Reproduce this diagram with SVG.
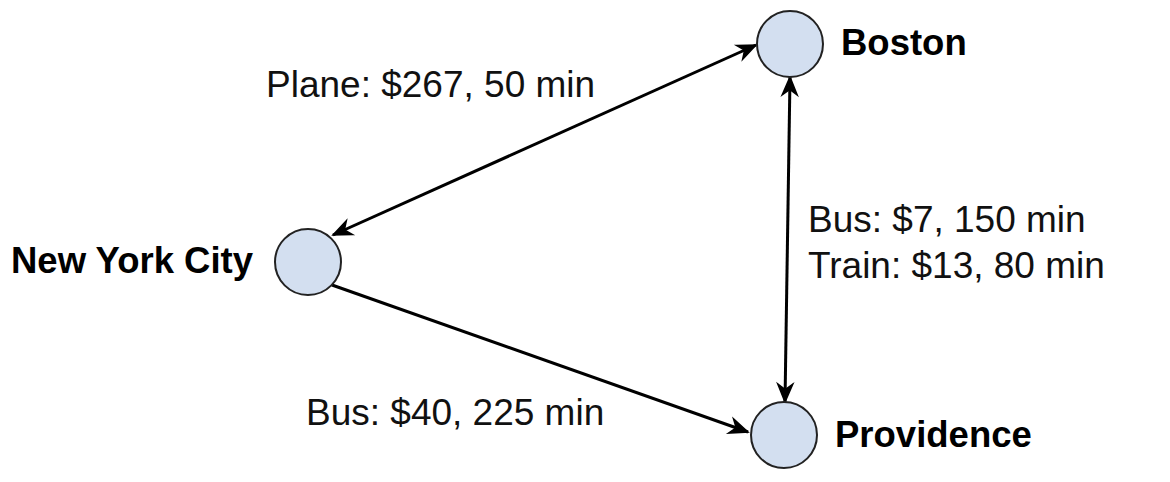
<svg xmlns="http://www.w3.org/2000/svg" width="1170" height="482" viewBox="0 0 1170 482">
  <style>
    .node { fill: #d3dff0; stroke: #222; stroke-width: 2; }
    .edge { fill: none; stroke: #000; stroke-width: 3; }
    .name { font-family: "Liberation Sans", Arial, sans-serif; font-weight: bold; font-size: 36.5px; fill: #000; }
    .label { font-family: "Liberation Sans", Arial, sans-serif; font-size: 37px; fill: #111; }
  </style>
  <defs>
    <marker id="arrow" markerUnits="userSpaceOnUse" markerWidth="26" markerHeight="22" viewBox="-22 -11 26 22" refX="0" refY="0" orient="auto-start-reverse">
      <path d="M-18,-7.5 L0,0 L-18,7.5 L-12.5,0 Z" fill="#000" stroke="#000" stroke-width="1.5" stroke-linejoin="miter"/>
    </marker>
  </defs>

  <g id="connectors">
    <line class="edge" x1="333" y1="235" x2="756" y2="45" marker-start="url(#arrow)" marker-end="url(#arrow)"/>
    <line class="edge" x1="790" y1="77" x2="785" y2="402" marker-start="url(#arrow)" marker-end="url(#arrow)"/>
    <line class="edge" x1="332" y1="285" x2="748" y2="432" marker-end="url(#arrow)"/>
    <text class="label" x="266" y="97">Plane: $267, 50 min</text>
    <text class="label" x="808" y="232">Bus: $7, 150 min</text>
    <text class="label" x="808" y="278">Train: $13, 80 min</text>
    <text class="label" x="306" y="425">Bus: $40, 225 min</text>
  </g>

  <g id="boston">
    <circle class="node" cx="790" cy="44" r="33"/>
    <text class="name" x="841" y="55">Boston</text>
  </g>
  <g id="nyc">
    <circle class="node" cx="308" cy="262" r="33"/>
    <text class="name" x="11" y="273">New York City</text>
  </g>
  <g id="providence">
    <circle class="node" cx="784" cy="435" r="33"/>
    <text class="name" x="835" y="447">Providence</text>
  </g>
</svg>
